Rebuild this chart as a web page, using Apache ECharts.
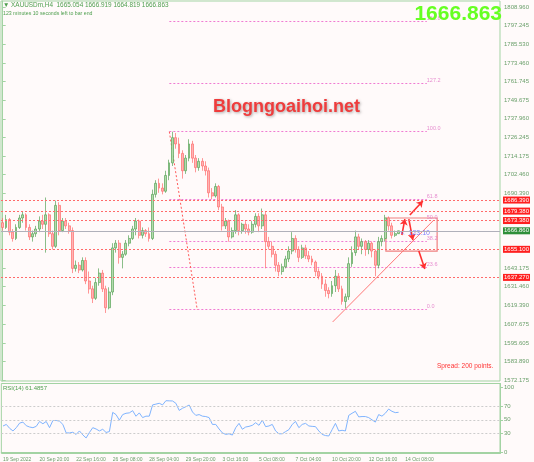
<!DOCTYPE html>
<html>
<head>
<meta charset="utf-8">
<script src="https://cdn.jsdelivr.net/npm/echarts@6/dist/echarts.min.js"></script>
<style>
    html, body { margin: 0; padding: 0; background: #fffafa; }
    #chart { width: 534px; height: 462px; }
</style>
</head>
<body>
<div id="chart"></div>
<script>
    // XAUUSDm H4 candles: [open, close, low, high]
    const candles = [
        [1672, 1669, 1667, 1675], [1669, 1674, 1668, 1677], [1674, 1666, 1664, 1675], [1666, 1662, 1660, 1668],
        [1662, 1669, 1661, 1671], [1669, 1675, 1668, 1677], [1675, 1677, 1672, 1679], [1677, 1669, 1667, 1678],
        [1669, 1663, 1661, 1671], [1663, 1665, 1660, 1667], [1665, 1668, 1663, 1670], [1668, 1673, 1666, 1676],
        [1673, 1671, 1668, 1677], [1671, 1677, 1653, 1688], [1677, 1665, 1663, 1678], [1665, 1657, 1655, 1667],
        [1657, 1683, 1656, 1686], [1683, 1667, 1664, 1685], [1667, 1673, 1666, 1675], [1673, 1670, 1668, 1675],
        [1670, 1667, 1665, 1672], [1667, 1643, 1640, 1669], [1643, 1645, 1641, 1648], [1645, 1642, 1640, 1647],
        [1642, 1648, 1641, 1650], [1648, 1635, 1633, 1650], [1635, 1630, 1627, 1641], [1630, 1624, 1621, 1632],
        [1624, 1634, 1623, 1637], [1634, 1640, 1632, 1643], [1640, 1630, 1628, 1642], [1630, 1618, 1614.7, 1632],
        [1618, 1628, 1617, 1631], [1628, 1656, 1626, 1659], [1656, 1659, 1653, 1661], [1659, 1650, 1646, 1661],
        [1650, 1652, 1643, 1654], [1652, 1659, 1651, 1661], [1659, 1662, 1657, 1664], [1662, 1668, 1661, 1670],
        [1668, 1673, 1664, 1675], [1673, 1664, 1662, 1674], [1664, 1667, 1662, 1669], [1667, 1665, 1663, 1668],
        [1665, 1662, 1660, 1669], [1662, 1690, 1661, 1693], [1690, 1697, 1688, 1699], [1697, 1694, 1691, 1700],
        [1694, 1692, 1690, 1697], [1692, 1702, 1691, 1705], [1702, 1710, 1699, 1712], [1710, 1726, 1708, 1729.8],
        [1726, 1722, 1719, 1729], [1722, 1716, 1713, 1726], [1716, 1705, 1700, 1718], [1705, 1713, 1703, 1715],
        [1713, 1722, 1711, 1725], [1722, 1713, 1710, 1724], [1713, 1707, 1704, 1715], [1707, 1711, 1705, 1713],
        [1711, 1708, 1705, 1713], [1708, 1705, 1702, 1711], [1705, 1691, 1688, 1707], [1691, 1689, 1687, 1694],
        [1689, 1695, 1688, 1697], [1695, 1682, 1680, 1696], [1682, 1670, 1667, 1684], [1670, 1673, 1668, 1675],
        [1673, 1663, 1660, 1674], [1663, 1667, 1662, 1669], [1667, 1677, 1665, 1680], [1677, 1667, 1664, 1678],
        [1667, 1671, 1665, 1672], [1671, 1668, 1665, 1673], [1668, 1666, 1664, 1671], [1666, 1671, 1665, 1673],
        [1671, 1676, 1669, 1678], [1676, 1670, 1666, 1678], [1670, 1677, 1668, 1681], [1677, 1660, 1643, 1679],
        [1660, 1657, 1655, 1663], [1657, 1652, 1650, 1660], [1652, 1645, 1641, 1654], [1645, 1641, 1638, 1647],
        [1641, 1644, 1639, 1646], [1644, 1649, 1643, 1651], [1649, 1654, 1647, 1657], [1654, 1662, 1652, 1666],
        [1662, 1655, 1653, 1664], [1655, 1650, 1647, 1657], [1650, 1656, 1649, 1658], [1656, 1651, 1649, 1658],
        [1651, 1649, 1647, 1654], [1649, 1647, 1645, 1651], [1647, 1641, 1638, 1648], [1641, 1638, 1636, 1643],
        [1638, 1633, 1630, 1640], [1633, 1629, 1625, 1636], [1629, 1627, 1624, 1631], [1627, 1632, 1625, 1635],
        [1632, 1638, 1628, 1642], [1638, 1630, 1628, 1640], [1630, 1622, 1620, 1632], [1622, 1625, 1617.7, 1627],
        [1625, 1646, 1623, 1650], [1646, 1653, 1644, 1657], [1653, 1663, 1651, 1667], [1663, 1657, 1655, 1665],
        [1657, 1660, 1652, 1662], [1660, 1655, 1651, 1661], [1655, 1659, 1652, 1661], [1659, 1654, 1650, 1660],
        [1654, 1645, 1638, 1655], [1645, 1660, 1643, 1663], [1660, 1662, 1657, 1664], [1662, 1675, 1660, 1677],
        [1675, 1670, 1667, 1676], [1670, 1664, 1662, 1672], [1664, 1665.054, 1663, 1667], [1665.054, 1666.863, 1664.819, 1666.919]
    ];

    // RSI(14), one value per candle
    const rsiValues = [
        40.5, 43, 37, 33, 38, 45, 46.5, 41, 39, 38, 40, 47.5, 44, 47.5, 38, 48.9, 49, 48, 43, 30,
        30, 31, 27.7, 33, 27, 22.3, 30.7, 38, 36, 33, 35.6, 30.7, 32, 61.4, 58, 49.5, 58, 60, 60.6, 64,
        55.5, 60.6, 53.4, 55.6, 55.6, 72.8, 74, 75.3, 72.8, 79.2, 79, 78.8, 75.3, 64.4, 67.7, 70, 72.6, 62, 56.8, 58,
        55.6, 55, 53.4, 43, 43, 36, 30, 27.7, 28.7, 26.7, 38, 44.6, 35.6, 39, 40, 41.6, 45.6, 41.6, 49.5, 39.6,
        40.6, 43, 33, 28.7, 28.7, 32, 35, 43, 47.5, 38, 43, 44.6, 40.6, 40, 39.6, 33, 27.7, 26, 25.3, 35,
        44.6, 33, 34, 33, 56.8, 60, 63, 54.5, 55, 55, 53.4, 50, 46.5, 58, 55.6, 60, 66.4, 63, 61, 61.4857
    ];

    const priceTicks = [1808.960, 1797.245, 1785.530, 1773.460, 1761.745, 1749.675, 1737.960, 1726.245, 1714.175,
        1702.460, 1690.390, 1643.175, 1631.460, 1619.390, 1607.675, 1595.605, 1583.890, 1572.175];
    const rsiTicks = [0, 30, 50, 70, 100];
    const rsiLevels = [30, 50, 70];
    const timeLabels = ['19 Sep 2022', '20 Sep 20:00', '22 Sep 16:00', '26 Sep 08:00', '28 Sep 04:00', '29 Sep 20:00',
        '3 Oct 16:00', '5 Oct 08:00', '7 Oct 04:00', '10 Oct 20:00', '12 Oct 16:00', '14 Oct 08:00'];

    const levelLines = [1686.390, 1679.381, 1673.381, 1655.095, 1637.267];
    const lastPrice = 1666.863;

    // fibonacci retracement drawn on the chart
    const fibNames = ['0.0', '23.6', '38.2', '50.0', '61.8', '100.0', '127.2', '161.8'];
    const fibPrices = [1616.8, 1643.5, 1660.0, 1673.3, 1686.6, 1729.8, 1760.5, 1799.6];
    const fibSpan = [50.1, 127.5];                 // bar positions where the levels start / end
    const fibSwing = [[50.1, 1729.8], [58.5, 1616.6]];
    const trendLine = [[99.2, 1609.0], [129.6, 1673.7]];
    const arrows = [
        [[120.0, 1664.2], [120.9, 1674.3]],
        [[122.1, 1674.3], [123.3, 1661.0]],
        [[122.4, 1676.9], [126.3, 1685.8]],
        [[125.1, 1654.0], [126.9, 1642.6]]
    ];
    const boxArea = [[115.2, 1675.0], [130.6, 1654.0]];

    const slotCount = 150;
    const categories = [];
    for (let i = 0; i < slotCount; i++) categories.push('');
    timeLabels.forEach(function (t, k) { categories[k * 11] = t; });

    const green = '#6a9f6a';
    const frame = '#a3d3a3';

    const chart = echarts.init(document.getElementById('chart'));
    chart.setOption({
        animation: false,
        backgroundColor: '#fffafa',
        textStyle: { fontFamily: 'Liberation Sans' },
        grid: [
            { left: 1, right: 34, top: 1, bottom: 81, show: true, borderColor: frame, borderWidth: 1 },
            { left: 1, right: 34, top: 383.5, bottom: 4.5, show: true, borderColor: frame, borderWidth: 1 }
        ],
        xAxis: [
            { type: 'category', gridIndex: 0, data: categories, show: false },
            {
                type: 'category', gridIndex: 1, data: categories,
                axisLine: { lineStyle: { color: frame } },
                axisTick: {
                    alignWithLabel: true, length: 3, lineStyle: { color: frame },
                    interval: function (idx, val) { return val !== ''; }
                },
                axisLabel: {
                    interval: function (idx, val) { return val !== ''; },
                    align: 'left', fontSize: 5, color: green, margin: 3.5
                },
                splitLine: { show: false }
            },
            { type: 'value', gridIndex: 0, min: -0.5, max: slotCount - 0.5, show: false }
        ],
        yAxis: [
            {
                type: 'value', gridIndex: 0, position: 'right', min: 1571.5, max: 1812.77,
                axisLine: { show: true, lineStyle: { color: frame } },
                axisTick: { show: true, length: 3, customValues: priceTicks, lineStyle: { color: frame } },
                axisLabel: {
                    customValues: priceTicks, fontSize: 6, color: green, margin: 4,
                    formatter: function (v) { return v.toFixed(3); }
                },
                splitLine: { show: false }
            },
            {
                type: 'value', gridIndex: 1, position: 'right', min: -1.45, max: 105.5,
                axisLine: { show: true, lineStyle: { color: frame } },
                axisTick: { show: true, length: 3, customValues: rsiTicks, lineStyle: { color: frame } },
                axisLabel: { customValues: rsiTicks, fontSize: 6, color: green, margin: 4 },
                splitLine: { show: false }
            }
        ],
        series: [
            {
                type: 'candlestick',
                xAxisIndex: 0, yAxisIndex: 0,
                data: candles,
                barWidth: 2.4,
                itemStyle: {
                    color: '#b3dbad', color0: '#ffb4b4',
                    borderColor: '#58a358', borderColor0: '#ff6c6c',
                    borderWidth: 0.7
                },
                markLine: {
                    silent: true,
                    symbol: ['none', 'none'],
                    data: levelLines.map(function (v) {
                        return {
                            yAxis: v,
                            lineStyle: { color: '#ff6a6a', type: [2, 2], width: 1 },
                            label: { backgroundColor: '#ff1f1f' }
                        };
                    }).concat([{
                        yAxis: lastPrice,
                        lineStyle: { color: '#b0b0ba', type: 'solid', width: 1 },
                        label: { backgroundColor: '#2f8f3a' }
                    }]),
                    label: {
                        show: true, position: 'end', distance: 3,
                        color: '#ffffff', fontSize: 6, padding: [1, 1, 0, 1],
                        formatter: function (p) { return p.value.toFixed(3); }
                    }
                }
            },
            {
                type: 'lines', coordinateSystem: 'cartesian2d', xAxisIndex: 2, yAxisIndex: 0,
                silent: true,
                lineStyle: { color: '#f07ad2', type: [2, 2], width: 1, opacity: 1 },
                data: fibPrices.map(function (p) { return { coords: [[fibSpan[0], p], [fibSpan[1], p]] }; })
            },
            {
                type: 'lines', coordinateSystem: 'cartesian2d', xAxisIndex: 2, yAxisIndex: 0,
                silent: true,
                lineStyle: { color: '#ff5a5a', type: [2, 2], width: 1, opacity: 1 },
                data: [{ coords: fibSwing }]
            },
            {
                type: 'lines', coordinateSystem: 'cartesian2d', xAxisIndex: 2, yAxisIndex: 0,
                silent: true,
                lineStyle: { color: '#ff7878', width: 1, opacity: 1 },
                data: [{ coords: trendLine }]
            },
            {
                type: 'lines', coordinateSystem: 'cartesian2d', xAxisIndex: 2, yAxisIndex: 0,
                silent: true,
                symbol: ['none', 'arrow'], symbolSize: 6,
                lineStyle: { color: '#ff3030', width: 1.6, opacity: 1 },
                data: arrows.map(function (a) { return { coords: a }; })
            },
            {
                type: 'scatter', xAxisIndex: 2, yAxisIndex: 0,
                silent: true, symbolSize: 0,
                data: fibPrices.map(function (p, k) { return { name: fibNames[k], value: [fibSpan[1], p] }; }),
                label: {
                    show: true, position: 'right', distance: 0, offset: [0, -3],
                    formatter: '{b}', fontSize: 5.5, color: '#e070c4'
                },
                markArea: {
                    silent: true,
                    itemStyle: { color: 'rgba(255,255,255,0)', borderColor: '#f08080', borderWidth: 1.2 },
                    data: [[{ coord: boxArea[0] }, { coord: boxArea[1] }]]
                }
            },
            {
                type: 'scatter', xAxisIndex: 2, yAxisIndex: 0,
                silent: true, symbolSize: 0,
                data: [{ name: '<  123:10', value: [119.6, 1665.2] }],
                label: { show: true, position: 'right', distance: 0, formatter: '{b}', fontSize: 7, color: '#6060ff' }
            },
            {
                type: 'line',
                xAxisIndex: 1, yAxisIndex: 1,
                data: rsiValues,
                symbol: 'none',
                lineStyle: { color: '#7fb4ff', width: 1 },
                markLine: {
                    silent: true,
                    symbol: ['none', 'none'],
                    label: { show: false },
                    lineStyle: { color: '#cccccc', type: [2, 2], width: 1 },
                    data: rsiLevels.map(function (v) { return { yAxis: v }; })
                }
            }
        ],
        graphic: [
            {
                type: 'text', left: 3, top: 2, z: 10,
                style: { text: '▼ XAUUSDm,H4  1665.054 1666.919 1664.819 1666.863', fill: '#4f9f4f', font: '6.4px "Liberation Sans"' }
            },
            {
                type: 'text', left: 3, top: 11, z: 10,
                style: { text: '123 minutes 10 seconds left to bar end', fill: '#4f9f4f', font: '5.2px "Liberation Sans"' }
            },
            {
                type: 'text', right: 32, top: 4, z: 10,
                style: { text: '1666.863', fill: '#66ff22', font: 'bold 21px "Liberation Sans"' }
            },
            {
                type: 'text', left: 213, top: 98, z: 10,
                style: {
                    text: 'Blogngoaihoi.net', fill: '#ef3c3c', font: 'bold 18px "Liberation Sans"',
                    textShadowColor: 'rgba(0,0,0,0.35)', textShadowBlur: 3, textShadowOffsetX: 1, textShadowOffsetY: 1
                }
            },
            {
                type: 'text', left: 437, top: 363, z: 10,
                style: { text: 'Spread: 200 points.', fill: '#ff3333', font: '6.5px "Liberation Sans"' }
            },
            {
                type: 'text', left: 3, top: 385, z: 10,
                style: { text: 'RSI(14) 61.4857', fill: '#4f9f4f', font: '6px "Liberation Sans"' }
            }
        ]
    });
</script>
</body>
</html>
